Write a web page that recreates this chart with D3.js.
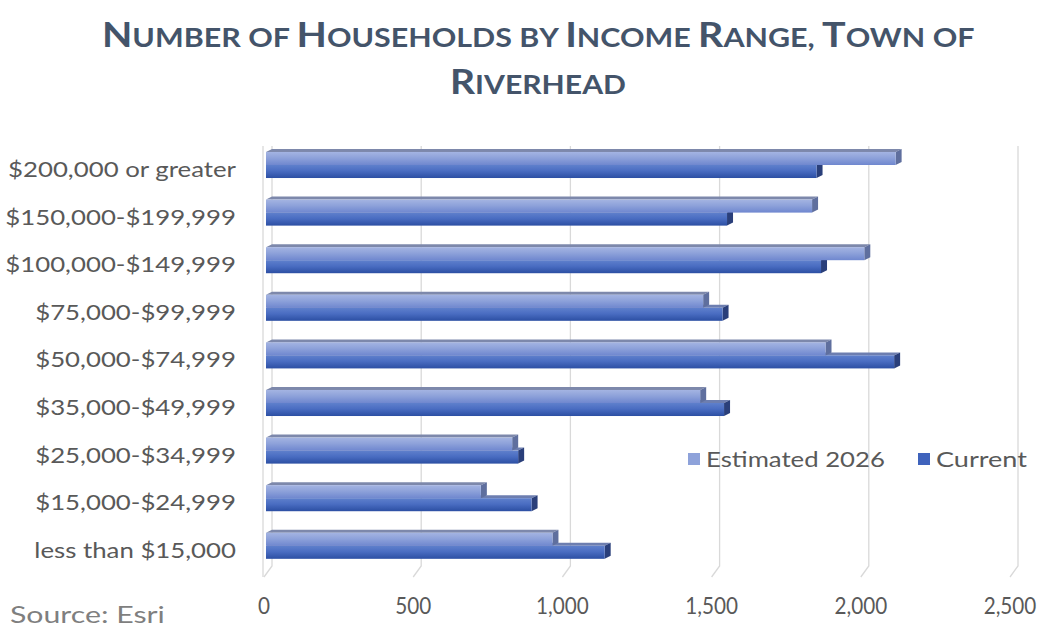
<!DOCTYPE html>
<html>
<head>
<meta charset="utf-8">
<script src="https://cdn.jsdelivr.net/npm/d3@7"></script>
<style>
  html, body { margin: 0; padding: 0; background: #ffffff; }
  svg { display: block; }
</style>
</head>
<body>
<svg id="chart" width="1037" height="634"></svg>
<script>
// Household counts by income range (top row first)
const categories = [
  "$200,000 or greater",
  "$150,000-$199,999",
  "$100,000-$149,999",
  "$75,000-$99,999",
  "$50,000-$74,999",
  "$35,000-$49,999",
  "$25,000-$34,999",
  "$15,000-$24,999",
  "less than $15,000"
];
const seriesNames = ["Estimated 2026", "Current"];
const estimated2026 = [2110, 1830, 2005, 1465, 1875, 1455, 825, 720, 960];
const current = [1845, 1545, 1860, 1530, 2105, 1535, 845, 890, 1135];
const xTicks = [0, 500, 1000, 1500, 2000, 2500];

const titleLines = [
  "Number of Households by Income Range, Town of",
  "Riverhead"
];
const sourceText = "Source: Esri";

const svg = d3.select("#chart");
const FONT = "Lato, 'Open Sans', sans-serif";
const TEXT_GRAY = "#595959";

// depth of the 3D boxes and of the plot floor
const depth = { dx: 6, dy: -3 };
const floor = { dx: -8, dy: 11 };

// value scale on the front plane of the bars
const x = d3.scaleLinear().domain([0, 2500]).range([266, 1012]);
const yBand = d3.scaleBand().domain(categories).range([139.7, 568.1])
  .paddingInner(0.39).paddingOuter(0.195);
const ySub = d3.scaleBand().domain(seriesNames).range([3, yBand.bandwidth()]);

// gradients
const defs = svg.append("defs");
function vGrad(id, stops) {
  const g = defs.append("linearGradient").attr("id", id)
    .attr("x1", 0).attr("y1", 0).attr("x2", 0).attr("y2", 1);
  stops.forEach(([o, c]) => g.append("stop").attr("offset", o).attr("stop-color", c));
}
vGrad("gEst", [[0, "#a4b4e2"], [0.45, "#8ea2da"], [1, "#6f87cf"]]);
vGrad("gCur", [[0, "#5f80cc"], [0.45, "#4a6dc2"], [1, "#2c4fa3"]]);

const style = {
  "Estimated 2026": { fill: "url(#gEst)", top: "#7d88ab", side: "#5f6f9e", legend: "#8ea2da" },
  "Current": { fill: "url(#gCur)", top: "#6d7eb0", side: "#2a3f7a", legend: "#3f63bc" }
};

// gridlines: vertical on the back wall, bending onto the floor
const grid = svg.append("g");
const yTopGrid = 146, yFloor = 566;
xTicks.forEach(t => {
  const bx = x(t) + depth.dx;
  grid.append("path")
    .attr("d", `M${bx},${yTopGrid}V${yFloor}l${floor.dx},${floor.dy}`)
    .attr("fill", "none").attr("stroke", "#d9d9d9").attr("stroke-width", 1.3);
});
// left wall front edge
grid.append("path")
  .attr("d", `M${x(0) - 3},${yTopGrid}V${yFloor + floor.dy}`)
  .attr("fill", "none").attr("stroke", "#d9d9d9").attr("stroke-width", 1.3);

// bars: draw lower series first so the upper box overlaps its top face
const data = categories.map((c, i) => ({
  cat: c,
  vals: { "Estimated 2026": estimated2026[i], "Current": current[i] }
}));
const bars = svg.append("g");
const order = ["Current", "Estimated 2026"];
data.forEach(d => {
  order.forEach(s => {
    const x0 = x(0), x1 = x(d.vals[s]);
    const y0 = yBand(d.cat) + ySub(s);
    const h = ySub.bandwidth();
    const st = style[s];
    const g = bars.append("g");
    // top face
    g.append("path")
      .attr("d", `M${x0},${y0}L${x0 + depth.dx},${y0 + depth.dy}L${x1 + depth.dx},${y0 + depth.dy}L${x1},${y0}Z`)
      .attr("fill", st.top);
    // end cap
    g.append("path")
      .attr("d", `M${x1},${y0}L${x1 + depth.dx},${y0 + depth.dy}L${x1 + depth.dx},${y0 + h + depth.dy}L${x1},${y0 + h}Z`)
      .attr("fill", st.side);
    // front face
    g.append("rect")
      .attr("x", x0).attr("y", y0).attr("width", x1 - x0).attr("height", h)
      .attr("fill", st.fill);
  });
});

// horizontal condense around the text anchor, for a narrower face
function condense(sel, sx) {
  sel.each(function () {
    const t = d3.select(this);
    const ax = +t.attr("x"), ay = +t.attr("y");
    t.attr("transform", `translate(${ax},${ay}) scale(${sx},1) translate(${-ax},${-ay})`);
  });
}
function fitWidth(sel, target) {
  const w = sel.node().getComputedTextLength();
  condense(sel, target / w);
}

// category labels
const labels = svg.append("g").selectAll("text").data(categories).join("text")
  .attr("x", 236)
  .attr("y", c => yBand(c) + 28)
  .attr("text-anchor", "end")
  .attr("font-family", FONT).attr("font-size", 22)
  .attr("fill", TEXT_GRAY)
  .text(c => c);
const sxLabel = 228 / labels.node().getComputedTextLength();
condense(labels, sxLabel);

// value axis labels on the front edge of the floor
const axisG = svg.append("g");
const ticks = axisG.selectAll("text").data(xTicks).join("text")
  .attr("x", t => x(t) + floor.dx / 2 + 2)
  .attr("y", 614)
  .attr("text-anchor", "middle")
  .attr("font-family", FONT).attr("font-size", 23)
  .attr("fill", TEXT_GRAY)
  .text(d3.format(","));
condense(ticks, 0.9);

// legend
const legend = svg.append("g");
const legendItems = [
  { name: "Estimated 2026", x: 688, w: 179 },
  { name: "Current", x: 918, w: 91 }
];
legendItems.forEach(li => {
  legend.append("rect").attr("x", li.x).attr("y", 453).attr("width", 12).attr("height", 12)
    .attr("fill", style[li.name].legend);
  const t = legend.append("text").attr("x", li.x + 18).attr("y", 467)
    .attr("font-family", FONT).attr("font-size", 22).attr("fill", TEXT_GRAY).text(li.name);
  fitWidth(t, li.w);
});

// source note
const src = svg.append("text").attr("x", 10).attr("y", 623)
  .attr("font-family", FONT).attr("font-size", 23).attr("fill", "#7f7f7f").text(sourceText);
fitWidth(src, 155);

// title in small caps: first letter of each word larger
const titleColor = "#44546a";
const titleTargets = [
  { cx: 538, y: 47, width: 872 },
  { cx: 538, y: 94, width: 176 }
];
titleLines.forEach((line, li) => {
  const tgt = titleTargets[li];
  const t = svg.append("text").attr("x", 0).attr("y", tgt.y)
    .attr("font-family", FONT).attr("font-weight", 700).attr("fill", titleColor);
  const words = line.split(" ");
  words.forEach((w, wi) => {
    const first = w[0], rest = w.slice(1);
    const isUpperStart = first === first.toUpperCase() && /[A-Za-z]/.test(first);
    t.append("tspan").attr("font-size", isUpperStart ? 35 : 27).text(first.toUpperCase());
    t.append("tspan").attr("font-size", 27).text(rest.toUpperCase() + (wi < words.length - 1 ? " " : ""));
  });
  const bb = t.node().getBBox();
  const sx = tgt.width / bb.width;
  t.attr("transform", `translate(${tgt.cx - (bb.width * sx) / 2},0) scale(${sx},1)`);
});
</script>
</body>
</html>
